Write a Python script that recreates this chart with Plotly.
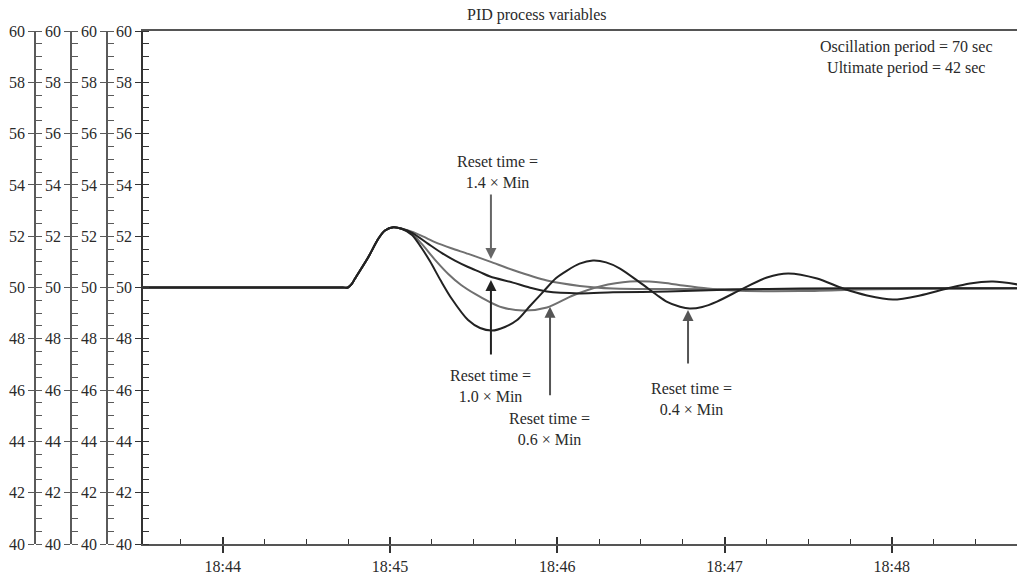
import plotly.graph_objects as go
import pandas as pd

# ---------------- data (seconds after 18:45:00, process value) ----------------
t_common = [-89.0, -17.0, -15.1, -13.7, -12.6, -7.8, -4.2, -1.8, 1.2, 4.2]
v_common = [50.0, 50.0, 50.0, 50.14, 50.34, 51.18, 51.90, 52.22, 52.35, 52.29]

t_04 = [7.9, 11.1, 14.3, 18.3, 22.2, 28.0, 32.3, 36.6, 41.2, 45.6, 50.2, 55.0, 59.5,
        63.5, 68.0, 72.8, 77.5, 82.5, 89.7, 95.7, 99.2, 104.0, 107.5, 112.0, 117.3,
        126.6, 135.2, 142.8, 153.2, 162.5, 171.1, 180.4, 190.1, 199.8, 208.0,
        216.3, 225.0]
v_04 = [52.05, 51.58, 51.03, 50.25, 49.55, 48.73, 48.42, 48.32, 48.46, 48.73, 49.28,
        49.84, 50.36, 50.66, 50.93, 51.05, 50.98, 50.74, 50.19, 49.71, 49.45, 49.25,
        49.18, 49.24, 49.45, 49.96, 50.39, 50.55, 50.35, 49.96, 49.69, 49.53, 49.69,
        49.96, 50.16, 50.23, 50.12]

t_06 = [7.8, 11.4, 16.0, 20.9, 25.5, 30.5, 35.5, 40.1, 47.7, 56.3, 65.6, 75.3, 86.1,
        97.9, 105.1, 114.0, 123.0, 147.1, 168.6, 190.1, 225.0]
v_06 = [52.10, 51.70, 51.10, 50.53, 50.10, 49.75, 49.45, 49.23, 49.10, 49.22, 49.69,
        50.04, 50.23, 50.19, 50.08, 49.96, 49.88, 49.86, 49.92, 49.96, 49.97]

t_10 = [7.8, 13.7, 18.5, 23.3, 28.0, 32.3, 35.9, 44.1, 50.0, 56.3, 68.1, 80.0, 99.4,
        123.0, 147.1, 180.0, 225.0]
v_10 = [52.14, 51.70, 51.35, 51.05, 50.80, 50.60, 50.43, 50.19, 50.00, 49.84, 49.77,
        49.81, 49.84, 49.92, 49.96, 49.97, 49.97]

t_14 = [7.8, 12.0, 16.1, 22.0, 28.1, 35.9, 44.1, 56.3, 68.1, 80.0, 104.0, 132.7,
        165.0, 225.0]
v_14 = [52.18, 51.98, 51.77, 51.53, 51.31, 51.01, 50.68, 50.27, 50.06, 49.96, 49.94,
        49.92, 49.94, 49.97]

y_ticks = [40, 42, 44, 46, 48, 50, 52, 54, 56, 58, 60]
x_start = "2000-01-01 18:43:31.4"
x_end = "2000-01-01 18:48:44.9"
base = pd.Timestamp("2000-01-01 18:45:00")

# annotations
labels = ["Reset time =<br>1.4 × Min", "Reset time =<br>1.0 × Min",
          "Reset time =<br>0.6 × Min", "Reset time =<br>0.4 × Min"]
label_t = [38.4, 36.0, 57.2, 108.3]
label_v = [54.51, 46.16, 44.50, 45.64]
tip_t = [36.2, 36.2, 57.4, 106.9]
tip_v = [51.11, 50.29, 49.25, 49.12]


def to_time(secs):
    return [base + pd.Timedelta(seconds=s) for s in secs]


FONT = "Liberation Serif"
BLACK = "#222222"
GRAY = "#707070"

fig = go.Figure()

series = [
    (t_14, v_14, GRAY, "1.4"),
    (t_06, v_06, GRAY, "0.6"),
    (t_10, v_10, BLACK, "1.0"),
    (t_04, v_04, BLACK, "0.4"),
]
for ts, vs, col, name in series:
    fig.add_trace(go.Scatter(
        x=to_time(t_common + ts), y=v_common + vs, mode="lines", name=name,
        line=dict(color=col, width=2, shape="spline", smoothing=0.8),
        showlegend=False, hoverinfo="skip"))

# helper (empty) traces so overlay axes are created
fig.add_trace(go.Scatter(x=[], y=[], xaxis="x2", yaxis="y", showlegend=False))
for k in range(2, 9):
    fig.add_trace(go.Scatter(x=[], y=[], xaxis="x", yaxis=f"y{k}", showlegend=False))

W, H = 1017, 576
ml, mr, mt, mb = 35, 0, 31, 32
pw = W - ml - mr
ph = H - mt - mb
x0 = (143 - ml) / pw

tickfont = dict(family=FONT, size=16, color="#2a2a2a")

xcommon = dict(type="date", range=[x_start, x_end], domain=[x0, 1],
               showgrid=False, zeroline=False)
fig.update_layout(
    xaxis=dict(**xcommon, anchor="y", showline=True, linecolor="#555555",
               linewidth=2, mirror=True, ticks="outside", ticklen=7,
               tickwidth=1.5, tickcolor="#333333", dtick=60000, tick0=base,
               tickformat="%H:%M", tickfont=tickfont,
               minor=dict(ticks="inside", ticklen=5, tickwidth=1.2,
                          tickcolor="#333333", dtick=15000, tick0=base)),
    xaxis2=dict(**xcommon, overlaying="x", anchor="y", ticks="inside",
                ticklen=7, tickwidth=1.5, tickcolor="#333333", dtick=60000,
                tick0=base, showticklabels=False, showline=False),
)

ycommon = dict(range=[40, 60], showgrid=False, zeroline=False, fixedrange=True)
pos = [0, (71 - ml) / pw, (107 - ml) / pw]

main_y = dict(**ycommon, tickvals=y_ticks, ticks="outside", ticklen=6,
              tickwidth=1.3, tickfont=tickfont, showline=True, linewidth=1.6,
              minor=dict(ticks="inside", ticklen=6, tickwidth=1.2, dtick=0.5,
                         tick0=40))
help_y = dict(**ycommon, tickvals=y_ticks[1:-1], ticks="inside", ticklen=6,
              tickwidth=1.3, showticklabels=False, showline=False)

fig.update_layout(
    yaxis=dict(**main_y, anchor="x", linecolor="#333333", tickcolor="#333333",
               minor_tickcolor="#333333"),
    yaxis5=dict(**help_y, overlaying="y", anchor="x", tickcolor="#333333"),
)
for i, p in enumerate(pos):
    fig.layout[f"yaxis{i + 2}"] = dict(**main_y, overlaying="y", anchor="free",
                                       position=p, side="left",
                                       linecolor="#5a5a5a", tickcolor="#5a5a5a",
                                       minor_tickcolor="#5a5a5a")
    fig.layout[f"yaxis{i + 6}"] = dict(**help_y, overlaying="y", anchor="free",
                                       position=p, side="left",
                                       tickcolor="#5a5a5a")

annos = []
annos.append(dict(text="PID process variables", xref="paper", yref="paper",
                  x=(537 - ml) / pw, y=(H - mb - 15) / ph, showarrow=False,
                  xanchor="center", yanchor="middle",
                  font=dict(family=FONT, size=16, color="#2a2a2a")))
annos.append(dict(text="Oscillation period = 70 sec<br>Ultimate period = 42 sec",
                  xref="paper", yref="paper", x=(906 - ml) / pw,
                  y=(H - mb - 57.5) / ph, showarrow=False, align="center",
                  xanchor="center", yanchor="middle",
                  font=dict(family=FONT, size=16, color="#2a2a2a")))

arrow_cols = ["#666666", BLACK, "#555555", "#555555"]
arrow_ay = [-66, 76, 90, 55]
for lab, lt, lv, tt, tv, ay, col in zip(labels, label_t, label_v, tip_t, tip_v,
                                        arrow_ay, arrow_cols):
    annos.append(dict(text=lab, x=base + pd.Timedelta(seconds=lt), y=lv,
                      xref="x", yref="y", showarrow=False, align="center",
                      xanchor="center", yanchor="middle",
                      font=dict(family=FONT, size=16, color="#2a2a2a")))
    annos.append(dict(text="", x=base + pd.Timedelta(seconds=tt), y=tv,
                      xref="x", yref="y", showarrow=True, ax=0, ay=ay,
                      arrowhead=2, arrowsize=1.1, arrowwidth=2,
                      arrowcolor=col, standoff=0))

fig.update_layout(
    width=W, height=H, autosize=False,
    margin=dict(l=ml, r=mr, t=mt, b=mb, pad=0),
    paper_bgcolor="white", plot_bgcolor="white",
    showlegend=False, annotations=annos,
    font=dict(family=FONT, size=16, color="#2a2a2a"),
)

fig.write_html("out.html", config={"displayModeBar": False})
